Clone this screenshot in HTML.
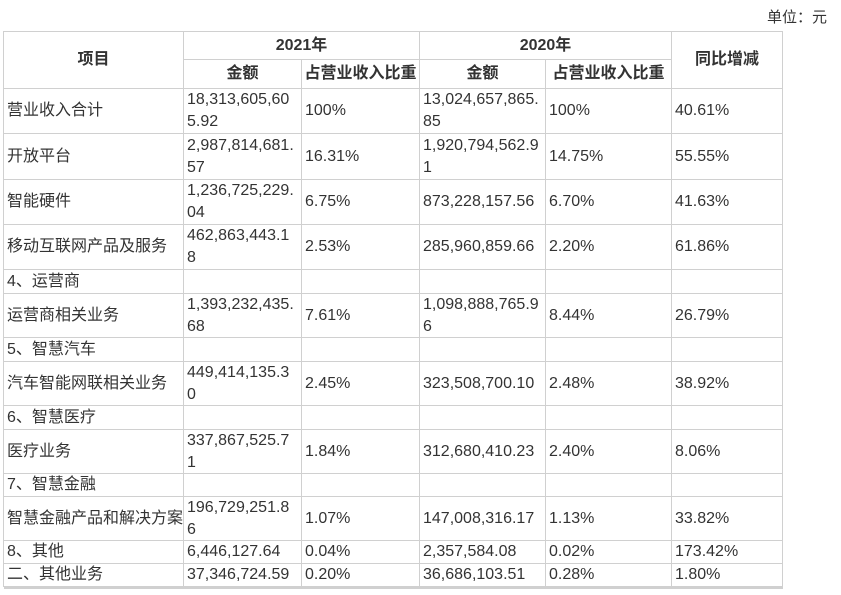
<!DOCTYPE html>
<html><head><meta charset="utf-8">
<style>
body{margin:0;width:841px;height:595px;background:#fff;position:relative;overflow:hidden;font-family:"Liberation Sans","Noto Sans CJK SC",sans-serif;color:#333;font-size:16px}
.c{position:absolute;box-sizing:border-box;border:1px solid #d0d0d0;display:flex;align-items:center;padding-left:3px;line-height:22px;margin:-1px 0 0 -1px;white-space:nowrap}
.h{justify-content:center;font-weight:bold;padding-left:0}
#unit{position:absolute;right:14px;top:6px;font-size:15px}
#bot{position:absolute;left:4px;top:586px;width:779px;height:3px;background:#d0d0d0}
</style></head><body>
<div id="unit">单位：元</div>
<div id="tbl"></div>
<div id="bot"></div>
<script>
const colX=[4,184,302,420,546,672,783];
const rowY=[89,134,180,225,270,294,338,362,406,430,474,497,541,564,587];
const rows=[
["营业收入合计","18,313,605,60<br>5.92","100%","13,024,657,865.<br>85","100%","40.61%"],
["开放平台","2,987,814,681.<br>57","16.31%","1,920,794,562.9<br>1","14.75%","55.55%"],
["智能硬件","1,236,725,229.<br>04","6.75%","873,228,157.56","6.70%","41.63%"],
["移动互联网产品及服务","462,863,443.1<br>8","2.53%","285,960,859.66","2.20%","61.86%"],
["4、运营商","","","","",""],
["运营商相关业务","1,393,232,435.<br>68","7.61%","1,098,888,765.9<br>6","8.44%","26.79%"],
["5、智慧汽车","","","","",""],
["汽车智能网联相关业务","449,414,135.3<br>0","2.45%","323,508,700.10","2.48%","38.92%"],
["6、智慧医疗","","","","",""],
["医疗业务","337,867,525.7<br>1","1.84%","312,680,410.23","2.40%","8.06%"],
["7、智慧金融","","","","",""],
["智慧金融产品和解决方案","196,729,251.8<br>6","1.07%","147,008,316.17","1.13%","33.82%"],
["8、其他","6,446,127.64","0.04%","2,357,584.08","0.02%","173.42%"],
["二、其他业务","37,346,724.59","0.20%","36,686,103.51","0.28%","1.80%"]
];
const T=document.getElementById('tbl');
function cell(x1,y1,x2,y2,html,cls,name){
  const d=document.createElement('div');
  d.className='c '+cls;
  d.style.left=x1+'px';d.style.top=y1+'px';
  d.style.width=(x2-x1+1)+'px';d.style.height=(y2-y1+1)+'px';
  d.innerHTML=html;
  
  
  T.appendChild(d);
}
cell(colX[0],32,colX[1],89,'项目','h','header-item');
cell(colX[1],32,colX[3],60,'2021年','h','header-2021');
cell(colX[3],32,colX[5],60,'2020年','h','header-2020');
cell(colX[5],32,colX[6],89,'同比增减','h','header-yoy');
cell(colX[1],60,colX[2],89,'金额','h','header-2021-amount');
cell(colX[2],60,colX[3],89,'占营业收入比重','h','header-2021-ratio');
cell(colX[3],60,colX[4],89,'金额','h','header-2020-amount');
cell(colX[4],60,colX[5],89,'占营业收入比重','h','header-2020-ratio');
rows.forEach((r,i)=>{
  r.forEach((v,j)=>{
    cell(colX[j],rowY[i],colX[j+1],rowY[i+1],v,'','cell-r'+i+'-c'+j);
  });
});
</script>
</body></html>
